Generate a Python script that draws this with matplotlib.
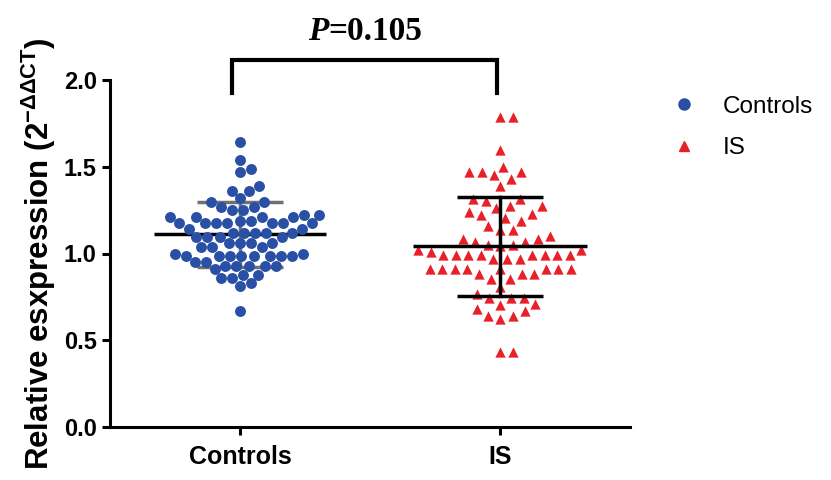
import numpy as np
import matplotlib
matplotlib.use('Agg')
import matplotlib.pyplot as plt
from matplotlib.lines import Line2D

plt.rcParams['font.family'] = ['Liberation Sans', 'DejaVu Sans']
plt.rcParams['mathtext.fontset'] = 'custom'
plt.rcParams['mathtext.rm'] = 'Liberation Sans:bold'
plt.rcParams['mathtext.it'] = 'Liberation Sans:bold'
plt.rcParams['mathtext.bf'] = 'Liberation Sans:bold'

groups = ['Controls', 'IS']

controls = [1.644, 1.539, 1.487, 1.468, 1.391, 1.362, 1.362, 1.320, 1.295, 1.295,
            1.266, 1.266, 1.251, 1.251, 1.224, 1.224, 1.209, 1.209, 1.209, 1.209,
            1.189, 1.189, 1.174, 1.174, 1.174, 1.174, 1.174, 1.174, 1.174,
            1.141, 1.141, 1.120, 1.120, 1.120, 1.120, 1.120,
            1.093, 1.093, 1.093, 1.093, 1.060, 1.060, 1.060, 1.060,
            1.035, 1.035, 1.035, 0.997, 0.997,
            0.987, 0.987, 0.987, 0.987, 0.987, 0.987, 0.987, 0.987,
            0.949, 0.949, 0.930, 0.930, 0.930, 0.930, 0.930, 0.910,
            0.878, 0.878, 0.857, 0.857, 0.830, 0.811, 0.670]

stroke = [1.785, 1.785, 1.598, 1.497, 1.472, 1.472, 1.472, 1.450, 1.429, 1.387,
          1.314, 1.314, 1.300, 1.272, 1.272, 1.260, 1.237, 1.230, 1.220, 1.205,
          1.190, 1.160, 1.137, 1.137, 1.103, 1.084, 1.084, 1.068, 1.068,
          1.051, 1.051, 1.045, 1.022, 1.022, 1.010,
          0.990, 0.990, 0.990, 0.990, 0.990, 0.990, 0.990, 0.990,
          0.970, 0.970, 0.970,
          0.910, 0.910, 0.910, 0.910, 0.910, 0.910, 0.910, 0.910,
          0.880, 0.880, 0.880, 0.853, 0.853, 0.805, 0.767,
          0.744, 0.744, 0.744, 0.710, 0.705, 0.680, 0.670,
          0.642, 0.642, 0.622, 0.430, 0.430]

# mean and SD
means = [1.110, 1.042]
sds = [0.185, 0.285]
p_text = '=0.105'

blue = '#2a50a6'
red = '#e8202a'

fig = plt.figure(figsize=(8.31, 4.8), dpi=100)
ax = fig.add_axes([110/831, 53/480, 520/831, 347/480])
ax.set_xlim(-0.5, 1.5)
ax.set_ylim(0, 2.0)

# pixel scale of the axes, used for the swarm layout
px_x = 520 / 2.0
px_y = 347 / 2.0


def swarm(vals, diam):
    order = np.argsort(vals)
    placed = []
    offs = np.zeros(len(vals))
    cand = [0.0]
    for k in range(1, 400):
        cand += [k * 0.5, -k * 0.5]
    for i in order:
        y = vals[i] * px_y
        for c in cand:
            ok = True
            for (qx, qy) in placed:
                if (c - qx) ** 2 + (y - qy) ** 2 < diam * diam:
                    ok = False
                    break
            if ok:
                break
        placed.append((c, y))
        offs[i] = c
    return offs / px_x


# controls: bars under the dots
m, s = means[0], sds[0]
ax.plot([-0.33, 0.33], [m, m], color='black', lw=2.5, zorder=1, solid_capstyle='butt')
ax.plot([0, 0], [m - s, m + s], color='#707070', lw=2.5, zorder=1)
ax.plot([-0.165, 0.165], [m + s, m + s], color='#707070', lw=2.5, zorder=1, solid_capstyle='butt')
ax.plot([-0.165, 0.165], [m - s, m - s], color='#707070', lw=2.5, zorder=1, solid_capstyle='butt')

xc = 0 + swarm(controls, 11.0)
ax.scatter(xc, controls, s=62, color=blue, marker='o', linewidths=0, zorder=2, clip_on=False)

xs = 1 + swarm(stroke, 12.5)
ax.scatter(xs, stroke, s=55, color=red, marker='^', linewidths=0, zorder=2, clip_on=False)

# IS: bars over the triangles
m, s = means[1], sds[1]
ax.plot([1 - 0.335, 1 + 0.335], [m, m], color='black', lw=2.5, zorder=3, solid_capstyle='butt')
ax.plot([1, 1], [m - s, m + s], color='black', lw=2.5, zorder=3)
ax.plot([1 - 0.165, 1 + 0.165], [m + s, m + s], color='black', lw=2.5, zorder=3, solid_capstyle='butt')
ax.plot([1 - 0.165, 1 + 0.165], [m - s, m - s], color='black', lw=2.5, zorder=3, solid_capstyle='butt')

# significance bracket
ax.plot([-0.03, -0.03, 0.99, 0.99], [1.926, 2.117, 2.117, 1.926], color='black', lw=3,
        clip_on=False, solid_joinstyle='miter')
t = ax.text(0.52, 2.19, p_text, ha='center', va='bottom', fontsize=24, fontweight='bold',
            family='Liberation Serif')
ax.annotate('P', xy=(0, 0), xycoords=t, ha='right', va='bottom', fontsize=24,
            fontweight='bold', fontstyle='italic', family='Liberation Serif')

for sp in ['top', 'right']:
    ax.spines[sp].set_visible(False)
for sp in ['left', 'bottom']:
    ax.spines[sp].set_linewidth(2.2)

ax.set_xticks([0, 1])
ax.set_xticklabels(groups)
ax.set_yticks([0, 0.5, 1.0, 1.5, 2.0])
ax.set_yticklabels(['0.0', '0.5', '1.0', '1.5', '2.0'])
ax.tick_params(width=2.2, length=6, labelsize=17)
ax.tick_params(axis='x', labelsize=18, pad=7)
for lab in ax.get_xticklabels() + ax.get_yticklabels():
    lab.set_fontweight('bold')

ax.set_ylabel('Relative esxpression (2$^{\\mathrm{-ΔΔCT}}$)', fontsize=22.5,
              fontweight='bold', labelpad=4)

handles = [Line2D([], [], marker='o', color=blue, ls='', markersize=8),
           Line2D([], [], marker='^', color=red, ls='', markersize=7.5)]
fig.legend(handles, groups, loc='upper left', bbox_to_anchor=(650/831, 1 - 74/480),
           frameon=False, fontsize=17.5, handletextpad=1.1, labelspacing=0.8,
           handlelength=1.0)

fig.savefig('out.png', dpi=100)
